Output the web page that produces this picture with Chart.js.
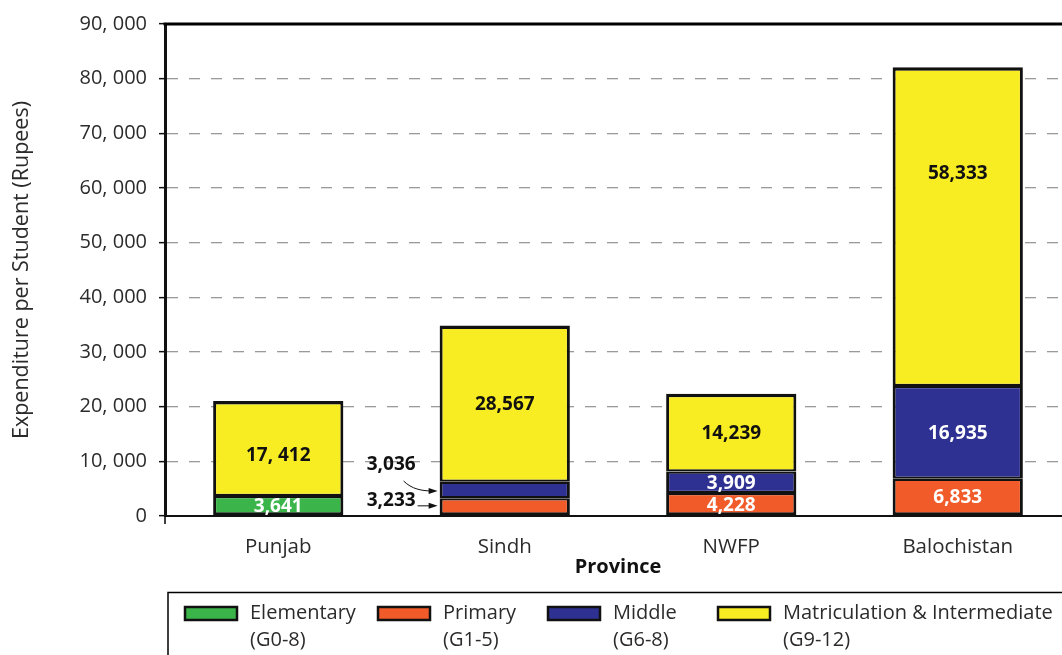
<!DOCTYPE html>
<html>
<head>
<meta charset="utf-8">
<script src="https://cdn.jsdelivr.net/npm/chart.js@4/dist/chart.umd.min.js"></script>
<style>
  html, body { margin: 0; padding: 0; width: 1062px; height: 655px; overflow: hidden; background: #fff; }
  #wrap { width: 1075px; height: 655px; position: relative; }
</style>
</head>
<body>
<div id="wrap"><canvas id="chart"></canvas></div>
<script>
const provinces = ["Punjab", "Sindh", "NWFP", "Balochistan"];
const elementary = [3641, null, null, null];
const primary = [null, 3233, 4228, 6833];
const middle = [null, 3036, 3909, 16935];
const matric = [17412, 28567, 14239, 58333];
const matricText = ["17, 412", "28,567", "14,239", "58,333"];

const seriesNames = ["Elementary", "Primary", "Middle", "Matriculation & Intermediate"];
const seriesGrades = ["(G0-8)", "(G1-5)", "(G6-8)", "(G9-12)"];
const seriesColors = ["#3bb54a", "#f15a29", "#2e3192", "#f8ec23"];

const yTicks = [0, 10000, 20000, 30000, 40000, 50000, 60000, 70000, 80000, 90000];
const yTickLabels = ["0", "10, 000", "20, 000", "30, 000", "40, 000", "50, 000", "60, 000", "70, 000", "80, 000", "90, 000"];

const allSeries = [elementary, primary, middle, matric];
const textColor = "#2b2b2b";
Chart.defaults.font.family = "'Open Sans', sans-serif";
Chart.defaults.color = textColor;

// outer edge of a stack gets the full border, inner joins share half each
function segBorder(c) {
  const j = c.dataIndex, i = c.datasetIndex;
  const filled = allSeries.map((s, k) => (s[j] != null ? k : -1)).filter(k => k >= 0);
  const first = filled[0], last = filled[filled.length - 1];
  return {
    left: 3, right: 3,
    top: i === last ? 3.5 : 2.25,
    bottom: i === first ? 3 : 2.25
  };
}

// labels drawn inside each segment, the two thin Sindh ones sit outside with arrows
const segLabels = {
  id: "segLabels",
  afterDatasetsDraw(chart) {
    const ctx = chart.ctx;
    ctx.save();
    ctx.font = "bold 19px 'Open Sans', sans-serif";
    ctx.textBaseline = "middle";
    chart.data.datasets.forEach((ds, i) => {
      const meta = chart.getDatasetMeta(i);
      ds.data.forEach((v, j) => {
        if (v == null) return;
        const bar = meta.data[j];
        const p = bar.getProps(["x", "y", "base", "width"], true);
        const cy = (p.y + p.base) / 2;
        const text = i === 3 ? matricText[j] : v.toLocaleString("en-US");
        if (j === 1 && (i === 1 || i === 2)) {
          const left = p.x - p.width / 2;
          ctx.fillStyle = "#111";
          ctx.textAlign = "right";
          ctx.strokeStyle = "#111";
          ctx.lineWidth = 1;
          let ay;
          if (i === 2) {
            ctx.fillText(text, left - 24, cy - 25);
            ay = cy + 1;
            ctx.beginPath();
            ctx.moveTo(left - 36, cy - 9);
            ctx.bezierCurveTo(left - 28, cy - 1, left - 18, ay, left - 6, ay);
            ctx.stroke();
          } else {
            ctx.fillText(text, left - 24, cy - 6);
            ay = cy - 1;
            ctx.beginPath();
            ctx.moveTo(left - 22, ay);
            ctx.lineTo(left - 6, ay);
            ctx.stroke();
          }
          ctx.beginPath();
          ctx.moveTo(left - 2, ay);
          ctx.lineTo(left - 11, ay - 3);
          ctx.lineTo(left - 11, ay + 3);
          ctx.closePath();
          ctx.fill();
          return;
        }
        let shift = 0;
        if (i === 3 && j === 0) shift = 6;
        if (i === 3 && j === 3) shift = -54;
        ctx.fillStyle = i === 3 ? "#111" : "#fff";
        ctx.textAlign = "center";
        ctx.fillText(text, p.x, cy + shift + 1);
      });
    });
    ctx.restore();
  }
};

const frame = {
  id: "frame",
  afterDraw(chart) {
    const { ctx, chartArea: a } = chart;
    ctx.save();
    ctx.strokeStyle = "#000";
    ctx.lineWidth = 3;
    ctx.beginPath();
    ctx.moveTo(a.left - 1.5, a.top);
    ctx.lineTo(a.right + 10, a.top);
    ctx.stroke();
    ctx.lineWidth = 1.5;
    ctx.beginPath();
    ctx.moveTo(a.left, a.bottom);
    ctx.lineTo(a.left, a.bottom + 8);
    ctx.stroke();

    // legend box
    ctx.lineWidth = 1.5;
    ctx.strokeRect(168, 592.5, 1000, 100);
    const xs = [185, 378, 548, 718];
    ctx.font = "20px 'Open Sans', sans-serif";
    ctx.textAlign = "left";
    ctx.textBaseline = "middle";
    seriesNames.forEach((name, k) => {
      ctx.fillStyle = seriesColors[k];
      ctx.fillRect(xs[k], 607, 52, 13);
      ctx.lineWidth = 2.5;
      ctx.strokeStyle = "#111";
      ctx.strokeRect(xs[k], 607, 52, 13);
      ctx.fillStyle = textColor;
      ctx.fillText(name, xs[k] + 65, 613);
      ctx.fillText(seriesGrades[k], xs[k] + 65, 640);
    });
    ctx.restore();
  }
};

const mkSet = (k, data) => ({
  label: seriesNames[k] + " " + seriesGrades[k],
  data: data,
  backgroundColor: seriesColors[k],
  borderColor: "#111",
  borderWidth: segBorder,
  borderSkipped: false,
  barPercentage: 0.575,
  categoryPercentage: 1
});

new Chart(document.getElementById("chart"), {
  type: "bar",
  data: {
    labels: provinces,
    datasets: [
      mkSet(0, elementary),
      mkSet(1, primary),
      mkSet(2, middle),
      mkSet(3, matric)
    ]
  },
  options: {
    responsive: true,
    maintainAspectRatio: false,
    animation: false,
    layout: { padding: { top: 22, right: 4, left: 0, bottom: 0 } },
    plugins: {
      legend: { display: false },
      tooltip: { enabled: false }
    },
    scales: {
      x: {
        stacked: true,
        grid: { display: false },
        border: { display: true, color: "#111", width: 2 },
        ticks: { font: { size: 20.5 }, color: textColor, padding: 11 },
        title: {
          display: true,
          text: "Province",
          font: { size: 20, weight: "bold" },
          color: "#111",
          padding: { bottom: 76 }
        },
        afterFit(scale) { scale.height = 139; }
      },
      y: {
        stacked: true,
        min: 0,
        max: 90000,
        afterBuildTicks(scale) { scale.ticks = yTicks.map(v => ({ value: v })); },
        ticks: {
          font: { size: 20 },
          color: textColor,
          padding: 12,
          callback: (v, i) => yTickLabels[i]
        },
        grid: {
          color: c => (c.tick && c.tick.value === 0 ? "rgba(0,0,0,0)" : "#9a9a9a"),
          lineWidth: 1.3,
          tickColor: "#111",
          tickLength: 6,
          tickWidth: 1.5
        },
        border: { display: true, color: "#111", width: 3, dash: [11, 11] },
        title: {
          display: true,
          text: "Expenditure per Student (Rupees)",
          font: { size: 21.5 },
          color: textColor,
          padding: { top: 9 }
        },
        afterFit(scale) { scale.width = 165; }
      }
    }
  },
  plugins: [segLabels, frame]
});
</script>
</body>
</html>
